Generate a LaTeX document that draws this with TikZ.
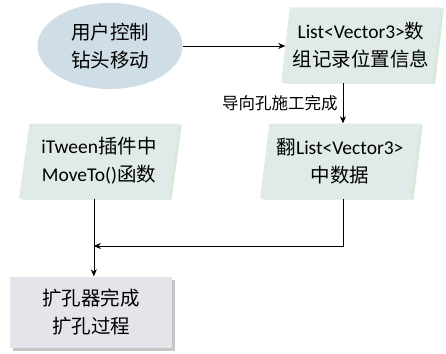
\documentclass[tikz,border=0pt]{standalone}
\usepackage{fontspec}
\setmainfont{Noto Sans CJK SC}
\newfontfamily\latfont{Carlito}
\usepackage{tikz}
\usetikzlibrary{ arrows.meta, calc, shapes.geometric, shadows, positioning }
\definecolor{startblue}{RGB}{207,221,230}
\definecolor{datagreen}{RGB}{223,234,233}
\definecolor{endgray}{RGB}{227,229,234}
\tikzset{
>={Stealth[length=7pt, width=6pt]}, % filled arrow heads
every node/.style={inner sep=1pt, font=\fontsize{19.5}{28}\selectfont, align=center},
startnode/.style={ellipse, fill=startblue, minimum width=145pt, minimum height=86pt},
datanode/.style={trapezium, trapezium left angle=80, trapezium right angle=100,
  trapezium stretches=true, fill=datagreen, minimum width=160pt, minimum height=75pt,
  drop shadow={shadow xshift=3pt, shadow yshift=-1pt, fill=datagreen!70!green!60!gray, opacity=.35}},
endnode/.style={rectangle, fill=endgray, minimum width=162pt, minimum height=71pt,
  drop shadow={shadow xshift=3pt, shadow yshift=-3pt, fill=gray, opacity=.45}},
flow/.style={->, line width=.6pt},
}

\begin{document}
\begin{tikzpicture}[x=1pt, y=-1pt]
  \useasboundingbox (0,0) rectangle (446,353);

  \node[startnode] (user) at (110,46) {用户控制\\钻头移动};
  \node[datanode] (record) at (361,45) {{\latfont List<Vector3>}数\\组记录位置信息};
  \node[datanode] (itween) at (99,161) {{\latfont iTween}插件中\\{\latfont MoveTo()}函数};
  \node[datanode] (flip) at (340,161) {翻{\latfont List<Vector3>}\\中数据};
  \node[endnode] (ream) at (91,312) {扩孔器完成\\扩孔过程};

  % bottom middle of the left data box, and where the two flows meet
  \coordinate (itweenout) at ($(itween.bottom left corner)!.5!(itween.bottom right corner)$);
  \coordinate (join) at (itweenout |- 0,246);

  \draw[flow] (user.east) -- (user.east -| record.west);
  \draw[flow] (record.south -| 343,0) -- node[left=4pt, font=\fontsize{16.5}{20}\selectfont]{导向孔施工完成} (flip.north -| 343,0);
  \draw[flow] (flip.south -| 343,0) |- (join);
  \draw[flow] (itweenout) -- (itweenout |- ream.north);
\end{tikzpicture}
\end{document}
